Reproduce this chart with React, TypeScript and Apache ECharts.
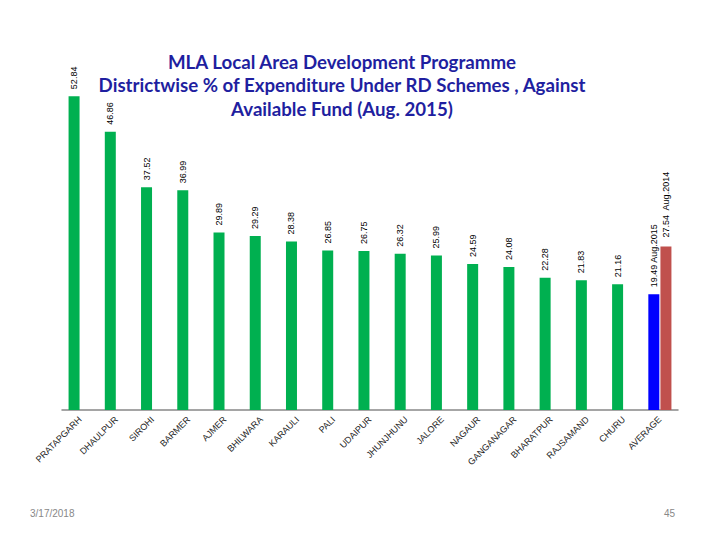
import React, { useEffect, useRef } from "react";
import * as echarts from "echarts";

const categories = [
  "PRATAPGARH", "DHAULPUR", "SIROHI", "BARMER", "AJMER", "BHILWARA", "KARAULI", "PALI",
  "UDAIPUR", "JHUNJHUNU", "JALORE", "NAGAUR", "GANGANAGAR", "BHARATPUR", "RAJSAMAND", "CHURU", "AVERAGE",
];
const aug2015 = [52.84, 46.86, 37.52, 36.99, 29.89, 29.29, 28.38, 26.85, 26.75, 26.32, 25.99, 24.59, 24.08, 22.28, 21.83, 21.16, 19.49];
const aug2014Average = 27.54;
const titleLines = [
  "MLA Local Area Development Programme",
  "Districtwise % of Expenditure Under RD Schemes , Against",
  "Available Fund (Aug. 2015)",
];
const footerDate = "3/17/2018";
const pageNo = "45";

export default function App() {
  const ref = useRef<HTMLDivElement>(null);
  useEffect(() => {
    const chart = echarts.init(ref.current!, null, { renderer: "svg" });
    const last = categories.length - 1;
    const s1 = aug2015.map((v, i) =>
      i === last
        ? { value: v, itemStyle: { color: "#0000FF" }, label: { formatter: v.toFixed(2) + " Aug.2015" } }
        : { value: v }
    );
    const s2 = categories.map((_, i) => (i === last ? aug2014Average : "-"));
    const labelBase = {
      show: true,
      position: "top",
      rotate: 90,
      align: "left",
      verticalAlign: "middle",
      distance: 7,
      fontFamily: "Liberation Sans",
      fontSize: 9,
      color: "#000",
    };
    chart.setOption({
      animation: false,
      backgroundColor: "#fff",
      title: {
        text: titleLines.join("\n"),
        left: 337,
        top: 45,
        textAlign: "center",
        textStyle: {
          fontFamily: "Lato",
          fontWeight: "bold",
          fontSize: 18.7,
          lineHeight: 23.5,
          color: "#1F1FA0",
        },
      },
      graphic: [
        { type: "text", left: 30, top: 508, style: { text: footerDate, fontFamily: "Liberation Sans", fontSize: 10, fill: "#888" } },
        { type: "text", left: 664, top: 508, style: { text: pageNo, fontFamily: "Liberation Sans", fontSize: 10, fill: "#888" } },
      ],
      grid: { left: 62, right: 42, top: 53.6, bottom: 130 },
      xAxis: {
        type: "category",
        data: categories,
        axisLine: { lineStyle: { color: "#888", width: 1.5 } },
        axisTick: { show: false },
        axisLabel: {
          interval: 0,
          rotate: 45,
          margin: 8,
          fontFamily: "Liberation Sans",
          fontSize: 9,
          color: "#222",
        },
      },
      yAxis: { type: "value", min: 0, max: 60, show: false, splitLine: { show: false } },
      series: [
        {
          type: "bar",
          data: s1,
          barWidth: 11,
          barGap: "10%",
          itemStyle: { color: "#00B050" },
          label: labelBase,
        },
        {
          type: "bar",
          data: s2,
          barWidth: 11,
          itemStyle: { color: "#C0504D" },
          label: { ...labelBase, distance: 9, formatter: (p: any) => p.value.toFixed(2) + "  Aug.2014" },
        },
      ],
    });
    return () => chart.dispose();
  }, []);
  return <div ref={ref} style={{ width: 720, height: 540, position: "absolute", left: 0, top: 0 }} />;
}
